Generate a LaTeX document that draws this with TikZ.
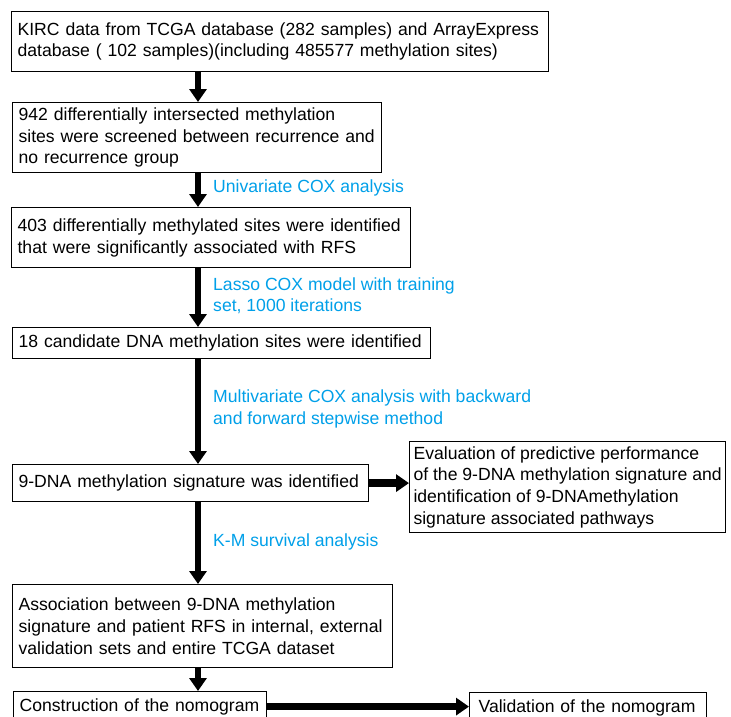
\documentclass[tikz,border=0pt]{standalone}
\usepackage{fontspec}
\setmainfont{Liberation Sans}
\usetikzlibrary{arrows.meta}
\definecolor{labblue}{RGB}{0,160,233}
\tikzset{
  box/.style={draw, line width=1.2pt, inner xsep=6pt, inner ysep=0pt, anchor=north west, align=left,
    font=\fontsize{17.6}{21.7}\selectfont},
  lab/.style={inner sep=0pt, anchor=west, align=left, text=labblue, font=\fontsize{17.6}{21.2}\selectfont},
  arr/.style={line width=6.5pt, -{Triangle[width=17pt,length=13pt]}},
}
\begin{document}
\begin{tikzpicture}[x=1pt,y=-1pt]
\clip (0,0) rectangle (731,717);
\fill[white] (0,0) rectangle (731,717);
\coordinate (ax) at (198,0);
\node[box, text width=525pt, minimum height=60pt] (b1) at (11,11)
  {KIRC data from TCGA database (282 samples) and ArrayExpress\\database ( 102 samples)(including 485577 methylation sites)};
\node[box, text width=357pt, minimum height=70pt] (b2) at (12,102)
  {942 differentially intersected methylation\\sites were screened between recurrence and\\no recurrence group};
\node[box, text width=387pt, minimum height=60pt] (b3) at (11,207)
  {403 differentially methylated sites were identified\\that were significantly associated with RFS};
\node[box, text width=406pt, minimum height=31pt] (b4) at (12,327)
  {18 candidate DNA methylation sites were identified};
\node[box, text width=344pt, minimum height=37pt] (b5) at (12,464)
  {9-DNA methylation signature was identified};
\node[box, inner xsep=0pt, minimum width=316pt, minimum height=91pt] (b6) at (409,441)
  {Evaluation of predictive performance\\of the 9-DNA methylation signature and\\identification of 9-DNAmethylation\\signature associated pathways};
\node[box, text width=368pt, minimum height=83pt] (b7) at (12,584)
  {Association between 9-DNA methylation\\signature and patient RFS in internal, external\\validation sets and entire TCGA dataset};
\node[box, text width=241pt, minimum height=30pt] (b8) at (13,691)
  {Construction of the nomogram};
\node[box, inner xsep=9pt, text width=219pt, minimum height=30pt] (b9) at (469,692)
  {Validation of the nomogram};
\draw[arr] (b1.south -| ax) -- (b2.north -| ax);
\draw[arr] (b2.south -| ax) -- (b3.north -| ax);
\draw[arr] (b3.south -| ax) -- (b4.north -| ax);
\draw[arr] (b4.south -| ax) -- (b5.north -| ax);
\draw[arr] (b5.south -| ax) -- (b7.north -| ax);
\draw[arr] (b7.south -| ax) -- (b8.north -| ax);
\draw[arr, line width=7.5pt] (b5.east) -- (b5.east -| b6.west);
\draw[arr, line width=7.5pt] (b8.east) -- (b8.east -| b9.west);
\node[lab] (l1) at (213,188) {Univariate COX analysis};
\node[lab] (l2) at (213,295.5) {Lasso COX model with training\\set, 1000 iterations};
\node[lab] (l3) at (213,409) {Multivariate COX analysis with backward\\and forward stepwise method};
\node[lab] (l4) at (213,542) {K-M survival analysis};
\end{tikzpicture}
\end{document}
